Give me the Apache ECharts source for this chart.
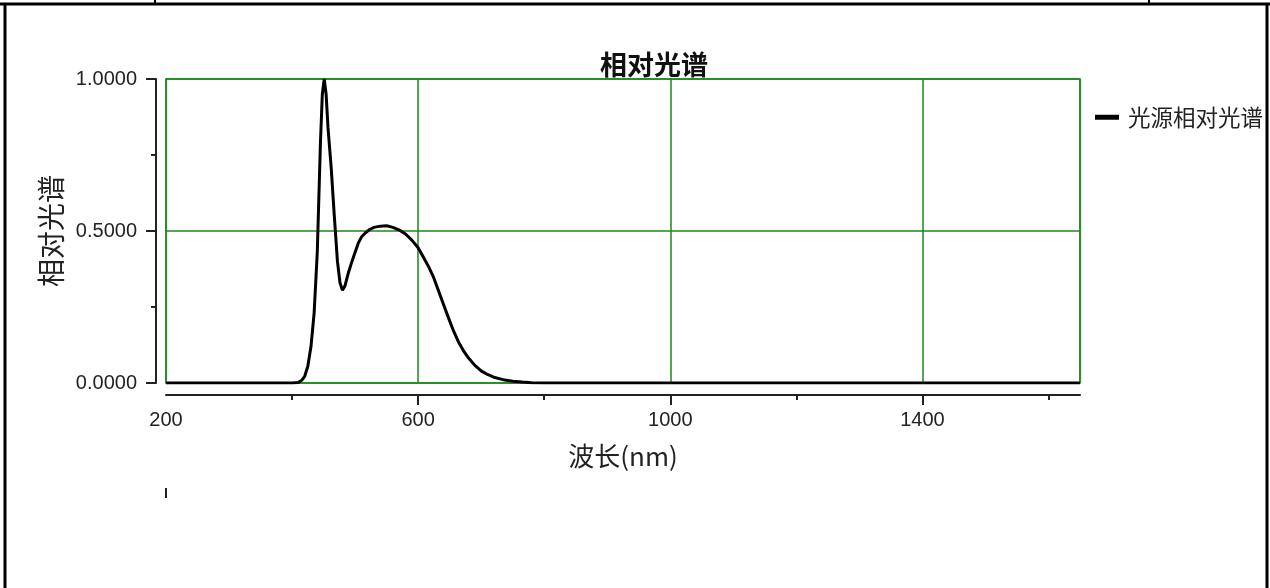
<!DOCTYPE html>
<html>
<head>
<meta charset="utf-8">
<script src="https://cdn.jsdelivr.net/npm/echarts@6/dist/echarts.min.js"></script>
<style>
html,body{margin:0;padding:0;background:#fff;}
#c{width:1270px;height:588px;}
</style>
</head>
<body>
<div id="c"></div>
<script>
// Data
const wavelengths = [200,400,410,415,420,425,430,435,440,445,448,451,454,457,462,467,472,476,480,484,489,495,500,505,510,517,523,530,540,550,560,570,580,590,600,608,616,624,632,640,648,656,664,672,680,690,700,710,720,735,750,765,780,800,1650];
const relSpectrum = [0,0,0.002,0.008,0.022,0.055,0.12,0.23,0.43,0.79,0.95,1.0,0.95,0.84,0.71,0.55,0.40,0.33,0.305,0.32,0.36,0.40,0.43,0.46,0.48,0.495,0.505,0.512,0.516,0.517,0.512,0.503,0.49,0.47,0.445,0.415,0.385,0.35,0.305,0.26,0.215,0.172,0.135,0.106,0.082,0.058,0.04,0.028,0.019,0.011,0.006,0.003,0.001,0,0];
const xMajorTicks = [200,600,1000,1400];
const xMinorTicks = [400,800,1200,1600];
const titleText = '相对光谱';
const seriesName = '光源相对光谱';
const xName = '波长(nm)';
const yName = '相对光谱';

const seriesData = wavelengths.map((w, i) => [w, relSpectrum[i]]);

const chart = echarts.init(document.getElementById('c'));
const cjk = "'Noto Sans CJK SC', sans-serif";
const lat = "'Liberation Sans', Arial, sans-serif";
const axisColor = '#222';
const gridGreen = '#1a8a1a';

const tickOnlyX = (grid, pos, vals, len, inside) => ({
  gridIndex: grid, type: 'value', min: 200, max: 1650,
  position: pos,
  axisLine: {show: false},
  axisTick: {show: true, inside: inside, length: len, customValues: vals, lineStyle: {color: axisColor, width: 2}},
  axisLabel: {show: false},
  splitLine: {show: false}
});

chart.setOption({
  animation: false,
  backgroundColor: '#fff',
  title: {
    text: titleText,
    left: 595, top: 46,
    textStyle: {fontFamily: cjk, fontSize: 27, fontWeight: 'bold', color: '#111'}
  },
  legend: {
    data: [{name: seriesName, icon: 'rect'}],
    left: 1090, top: 101,
    itemWidth: 24, itemHeight: 5,
    textStyle: {fontFamily: cjk, fontSize: 22.5, color: '#222', padding: [0,0,0,4]}
  },
  grid: [
    {left: 166, right: 190, top: 79, bottom: 205, show: true, borderColor: gridGreen, borderWidth: 1.5},
    {left: 166, right: 190, top: 91, bottom: 193, show: false},
    {left: 156, right: 200, top: 79, bottom: 205, show: false},
    // strip whose top edge is the x-axis line: inside ticks of a top axis point down
    {left: 166, right: 190, top: 395, bottom: 100, show: false}
  ],
  xAxis: [{
    gridIndex: 0, type: 'value', min: 200, max: 1650, interval: 400,
    axisLine: {show: false}, axisTick: {show: false}, axisLabel: {show: false},
    splitLine: {show: true, lineStyle: {color: gridGreen, width: 1.5}}
  }, {
    gridIndex: 1, type: 'value', min: 200, max: 1650, interval: 400,
    position: 'bottom',
    name: xName, nameLocation: 'middle', nameGap: 48,
    nameTextStyle: {fontFamily: cjk, fontSize: 26, color: '#222'},
    axisLine: {show: true, onZero: false, lineStyle: {color: axisColor, width: 2}},
    axisTick: {show: false},
    axisLabel: {customValues: xMajorTicks, margin: 15, fontFamily: lat, fontSize: 20, color: '#222', formatter: v => String(v)},
    splitLine: {show: false}
  },
  ...xMajorTicks.map(v => tickOnlyX(3, 'top', [v], 10, true)),
  tickOnlyX(1, 'bottom', xMinorTicks, 5, false),
  {gridIndex: 2, type: 'value', min: 200, max: 1650, show: false}],
  yAxis: [{
    gridIndex: 0, type: 'value', min: 0, max: 1, interval: 0.5,
    axisLine: {show: false}, axisTick: {show: false}, axisLabel: {show: false},
    splitLine: {show: true, lineStyle: {color: gridGreen, width: 1.5}}
  }, {
    gridIndex: 1, type: 'value', min: 0, max: 1, show: false
  }, {
    gridIndex: 2, type: 'value', min: 0, max: 1, interval: 0.5,
    position: 'left',
    name: yName, nameLocation: 'middle', nameGap: 89, nameRotate: 90,
    nameTextStyle: {fontFamily: cjk, fontSize: 28, color: '#222'},
    axisLine: {show: true, onZero: false, lineStyle: {color: axisColor, width: 2}},
    axisTick: {show: true, inside: false, length: 10, lineStyle: {color: axisColor, width: 2}},
    minorTick: {show: true, splitNumber: 2, length: 5, lineStyle: {color: axisColor, width: 2}},
    axisLabel: {margin: 19, fontFamily: lat, fontSize: 20, color: '#222', formatter: v => v.toFixed(4)},
    splitLine: {show: false}
  }, {
    gridIndex: 3, type: 'value', min: 0, max: 1, show: false
  }],
  series: [{
    name: seriesName, type: 'line', xAxisIndex: 0, yAxisIndex: 0,
    data: seriesData, showSymbol: false, symbol: 'none',
    itemStyle: {color: '#000'},
    lineStyle: {color: '#000', width: 3}
  }],
  graphic: [
    {type: 'line', shape: {x1: 0, y1: 4, x2: 1270, y2: 4}, style: {stroke: '#000', lineWidth: 3}},
    {type: 'line', shape: {x1: 155, y1: 0, x2: 155, y2: 4}, style: {stroke: '#000', lineWidth: 2}},
    {type: 'line', shape: {x1: 1149, y1: 0, x2: 1149, y2: 4}, style: {stroke: '#000', lineWidth: 2}},
    {type: 'line', shape: {x1: 5, y1: 4, x2: 5, y2: 588}, style: {stroke: '#000', lineWidth: 3}},
    {type: 'line', shape: {x1: 1267, y1: 4, x2: 1267, y2: 588}, style: {stroke: '#000', lineWidth: 3}}
  ]
});
</script>
</body>
</html>
